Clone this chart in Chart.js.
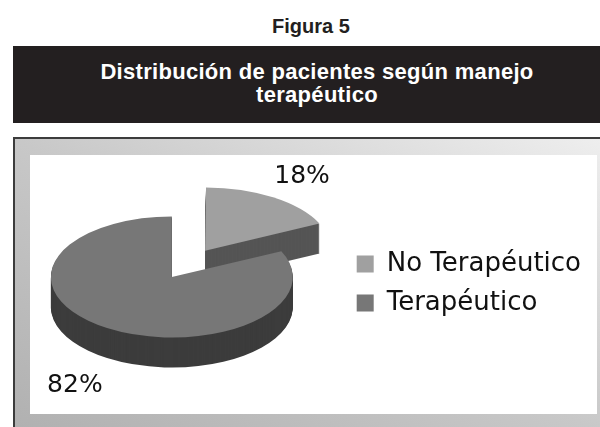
<!DOCTYPE html>
<html><head><meta charset="utf-8">
<script src="https://cdn.jsdelivr.net/npm/chart.js@4.4.1/dist/chart.umd.min.js"></script>
<style>
html,body{margin:0;padding:0;width:600px;height:427px;overflow:hidden;background:#fff;}
body{position:relative;}
#fig{position:absolute;left:0;top:15px;width:622px;text-align:center;font:bold 20px 'Liberation Sans',Arial,sans-serif;color:#231f20;line-height:22px;}
#hdr{position:absolute;left:13px;top:46px;width:608px;height:77px;background:#231f20;}
#hdr div{color:#fff;font:bold 22px 'Liberation Sans',Arial,sans-serif;letter-spacing:0.3px;text-align:center;line-height:23px;padding-top:14px;}
#frame{position:absolute;left:13px;top:137px;width:600px;height:300px;border-left:2px solid #3c3c3c;border-top:2px solid #3c3c3c;background:linear-gradient(to top right,#b0b0b0,#c8c8c8 50%,#efefef);}
#plot{position:absolute;left:30px;top:155px;width:567px;height:259px;background:#fff;}
#c{position:absolute;left:0;top:0;}
</style>
</head><body>
<div id="fig">Figura 5</div>
<div id="hdr"><div>Distribución de pacientes según manejo<br>terapéutico</div></div>
<div id="frame"></div>
<div id="plot"></div>
<canvas id="c" width="600" height="427"></canvas>
<script>
// ---- data ----
const categories = ['No Terapéutico', 'Terapéutico'];
const values = [18, 82];
const topColors = ['#a0a0a0', '#777777'];
const sideColors = ['#555555', '#3c3c3c'];
const explode = [248, 0];

const TILT = 0.5;
const DEPTH = 30;

function applyTilt(ctx, cx, cy, dy) {
  ctx.translate(cx, cy + dy);
  ctx.scale(1, TILT);
  ctx.translate(-cx, -cy);
}

const pie3d = {
  id: 'pie3d',
  beforeDatasetsDraw(chart) {
    const ctx = chart.ctx;
    const arcs = chart.getDatasetMeta(0).data;
    const cx = arcs[0].x, cy = arcs[0].y;
    for (let d = DEPTH; d >= 1; d--) {
      ctx.save();
      applyTilt(ctx, cx, cy, d);
      arcs.forEach((arc, i) => {
        const o = arc.options;
        arc.options = Object.assign({}, o, {backgroundColor: sideColors[i], borderColor: sideColors[i]});
        arc.draw(ctx);
        arc.options = o;
      });
      ctx.restore();
    }
    ctx.save();
    applyTilt(ctx, cx, cy, 0);
  },
  afterDatasetsDraw(chart) {
    const ctx = chart.ctx;
    ctx.restore();
    const arcs = chart.getDatasetMeta(0).data;
    const total = values.reduce((a, b) => a + b, 0);
    ctx.save();
    ctx.font = '25px "DejaVu Sans"';
    ctx.fillStyle = '#111';
    ctx.textAlign = 'center';
    ctx.textBaseline = 'middle';
    arcs.forEach((arc, i) => {
      const mid = (arc.startAngle + arc.endAngle) / 2;
      const shift = (arc.options.offset || 0) / 4;
      const r = shift + arc.outerRadius + 60;
      const x = arc.x + Math.cos(mid) * r;
      const y = arc.y + TILT * Math.sin(mid) * r + (Math.sin(mid) > 0 ? DEPTH : 0) + 2;
      ctx.fillText(Math.round(values[i] / total * 100) + '%', x, y);
    });
    ctx.restore();
  }
};

new Chart(document.getElementById('c'), {
  type: 'pie',
  data: {
    labels: categories,
    datasets: [{
      data: values,
      backgroundColor: topColors,
      borderWidth: 0,
      offset: explode,
      hoverOffset: 0
    }]
  },
  options: {
    responsive: false,
    animation: false,
    events: [],
    radius: 121,
    layout: {padding: {left: 0, top: 140, right: 9, bottom: 13}},
    plugins: {
      tooltip: {enabled: false},
      legend: {
        position: 'right',
        title: {display: true, text: ' ', padding: 6, font: {size: 1}},
        labels: {
          font: {family: 'DejaVu Sans', size: 26},
          color: '#111',
          boxWidth: 17,
          boxHeight: 17,
          padding: 13
        }
      }
    }
  },
  plugins: [pie3d]
});
</script>
</body></html>
